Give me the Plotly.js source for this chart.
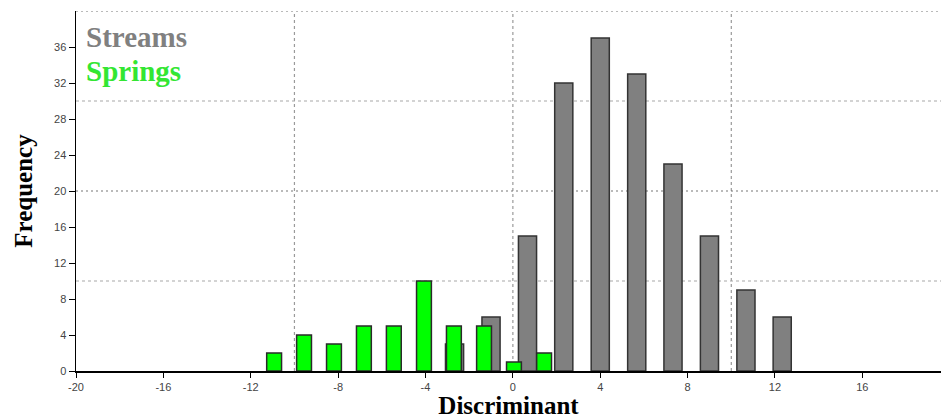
<!DOCTYPE html>
<html>
<head>
<meta charset="utf-8">
<script src="https://cdn.plot.ly/plotly-3.0.1.min.js"></script>
<style>html,body{margin:0;padding:0;background:#fff;}#chart{width:941px;height:419px;}</style>
</head>
<body>
<div id="chart"></div>
<script>
// Streams histogram (bin centres and counts)
const streamCenters = [-2.67, -1.0, 0.67, 2.33, 4.0, 5.67, 7.33, 9.0, 10.67, 12.33];
const streamCounts  = [3, 6, 15, 32, 37, 33, 23, 15, 9, 6];
// Springs histogram
const springCenters = [-10.93, -9.56, -8.19, -6.82, -5.45, -4.07, -2.7, -1.32, 0.05, 1.43];
const springCounts  = [2, 4, 3, 5, 5, 10, 5, 5, 1, 2];
const seriesNames = ["Streams", "Springs"];
const xTicks = [-20, -16, -12, -8, -4, 0, 4, 8, 12, 16];
const yTicks = [0, 4, 8, 12, 16, 20, 24, 28, 32, 36];
const xGrid = [-10, 0, 10];
const yGrid = [10, 20, 30, 40];

const traces = [
  {type: 'bar', name: seriesNames[0], x: streamCenters, y: streamCounts, width: 0.83,
   marker: {color: '#808080', line: {color: '#333333', width: 1.5}}},
  {type: 'bar', name: seriesNames[1], x: springCenters, y: springCounts, width: 0.68,
   marker: {color: '#00ff00', line: {color: '#2a2a2a', width: 1.5}}}
];

const shapes = [];
xGrid.forEach(v => shapes.push({type: 'line', layer: 'below', xref: 'x', yref: 'y', x0: v, x1: v, y0: 0, y1: 40,
  line: {color: '#9a9a9a', width: 1.2, dash: 'dot'}}));
yGrid.forEach(v => shapes.push({type: 'line', layer: 'below', xref: 'x', yref: 'y', x0: -20, x1: 19.6, y0: v, y1: v,
  line: {color: (v % 20 === 0) ? '#777777' : '#a8a8a8', width: 1.2, dash: (v % 20 === 0) ? '2px,3px' : 'dot'}}));

const layout = {
  width: 941, height: 419,
  margin: {l: 76, r: 0, t: 11, b: 48},
  paper_bgcolor: '#ffffff', plot_bgcolor: '#ffffff',
  barmode: 'overlay',
  showlegend: false,
  xaxis: {
    range: [-20, 19.6], tickvals: xTicks, ticktext: xTicks.map(String),
    showgrid: false, zeroline: false,
    showline: true, linecolor: '#000', linewidth: 1.5,
    ticks: 'outside', ticklen: 5, tickcolor: '#000', tickwidth: 1,
    tickfont: {family: 'Liberation Sans, Arial, sans-serif', size: 11, color: '#444'},
    title: {text: 'Discriminant', standoff: 9,
      font: {family: 'Liberation Serif, Times New Roman, serif', size: 25, color: '#000', weight: 'bold'}}
  },
  yaxis: {
    range: [0, 40], tickvals: yTicks, ticktext: yTicks.map(String),
    showgrid: false, zeroline: false,
    showline: true, linecolor: '#000', linewidth: 1.5,
    ticks: 'outside', ticklen: 6, tickcolor: '#000', tickwidth: 1,
    tickfont: {family: 'Liberation Sans, Arial, sans-serif', size: 11, color: '#444'},
    title: {text: 'Frequency', standoff: 14,
      font: {family: 'Liberation Serif, Times New Roman, serif', size: 25, color: '#000', weight: 'bold'}}
  },
  shapes: shapes,
  annotations: [
    {xref: 'paper', yref: 'paper', x: 0.009, y: 0.979, xanchor: 'left', yanchor: 'top', showarrow: false,
     text: '<b>' + seriesNames[0] + '</b>', font: {family: 'Liberation Serif, Times New Roman, serif', size: 29, color: '#808080'}},
    {xref: 'paper', yref: 'paper', x: 0.009, y: 0.882, xanchor: 'left', yanchor: 'top', showarrow: false,
     text: '<b>' + seriesNames[1] + '</b>', font: {family: 'Liberation Serif, Times New Roman, serif', size: 29, color: '#33e633'}}
  ]
};

Plotly.newPlot('chart', traces, layout, {displayModeBar: false, staticPlot: true});
</script>
</body>
</html>
